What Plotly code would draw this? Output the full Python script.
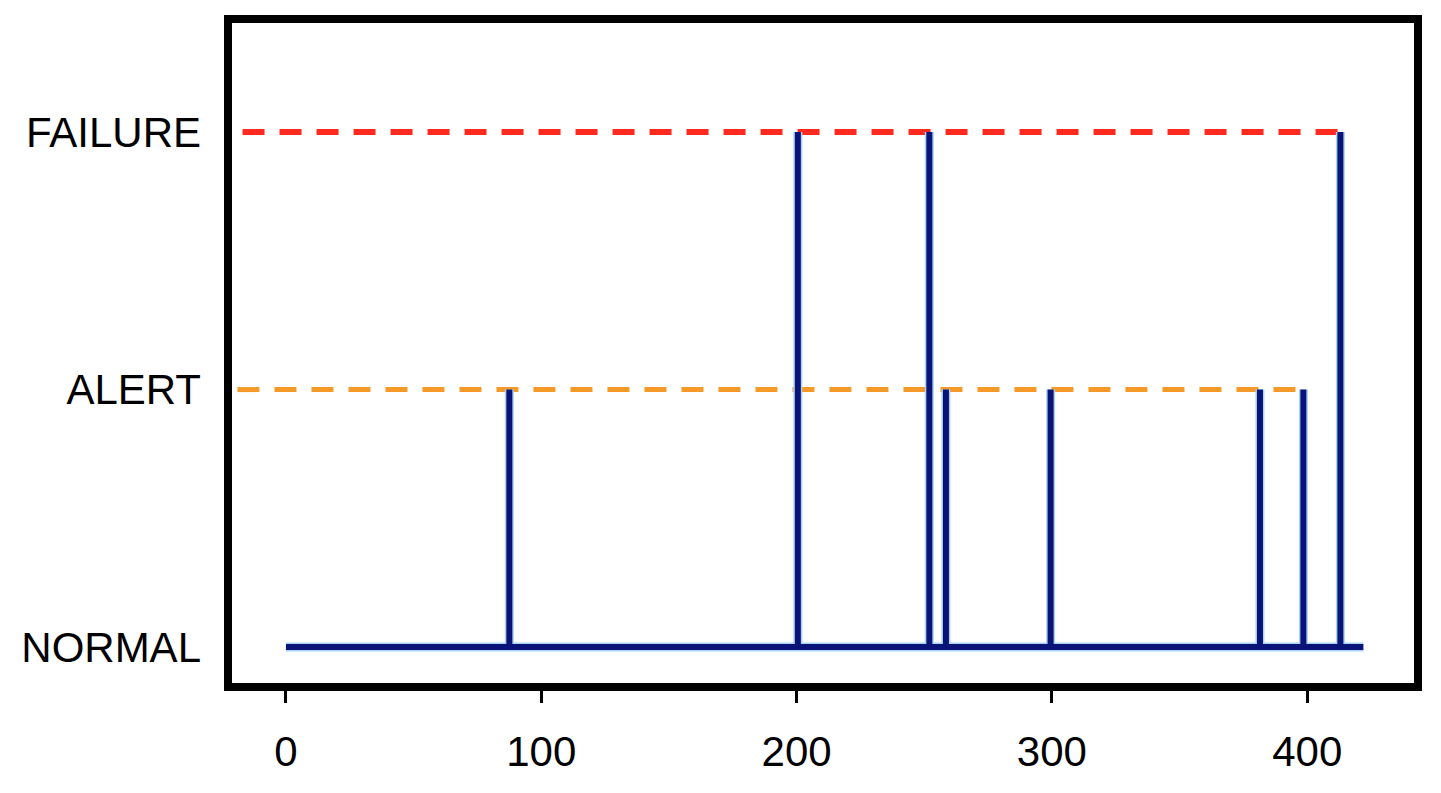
import plotly.graph_objects as go

# ---- data ----
state_labels = ["NORMAL", "ALERT", "FAILURE"]
state_values = [0, 1, 2]
x_ticks = [0, 100, 200, 300, 400]

baseline_start = 0
baseline_end = 422

event_x = [87.5, 200.5, 252, 258.5, 299.5, 381.5, 398.5, 413]
event_level = [1, 2, 2, 1, 1, 1, 1, 2]

alert_line_x = [-19, 398.5]
failure_line_x = [-17, 415]

# ---- build signal path ----
sig_x = [baseline_start, baseline_end, None]
sig_y = [0, 0, None]
for ex, lv in zip(event_x, event_level):
    sig_x += [ex, ex, None]
    sig_y += [0, lv, None]

fig = go.Figure()

# threshold lines
fig.add_trace(go.Scatter(x=failure_line_x, y=[2, 2], mode="lines",
                         line=dict(color="#ff2a1f", width=6, dash="22px,15px"),
                         hoverinfo="skip", showlegend=False))
fig.add_trace(go.Scatter(x=alert_line_x, y=[1, 1], mode="lines",
                         line=dict(color="#f59a28", width=5, dash="22px,15px"),
                         hoverinfo="skip", showlegend=False))

# signal halo + core
fig.add_trace(go.Scatter(x=sig_x, y=sig_y, mode="lines",
                         line=dict(color="#a9d3f2", width=9),
                         hoverinfo="skip", showlegend=False))
fig.add_trace(go.Scatter(x=sig_x, y=sig_y, mode="lines",
                         line=dict(color="#0a1478", width=6),
                         showlegend=False))

# frame
fig.add_shape(type="rect", xref="paper", yref="paper", x0=0, x1=1, y0=0, y1=1,
              line=dict(color="black", width=8), layer="above")

fig.update_layout(
    width=1433, height=785,
    margin=dict(l=220, r=23, t=11, b=106),
    paper_bgcolor="white", plot_bgcolor="white",
    font=dict(family="Liberation Sans, Arial, sans-serif", size=42, color="black"),
    xaxis=dict(range=[-22.7, 443.4], tickvals=x_ticks, ticktext=[str(v) for v in x_ticks],
               showgrid=False, zeroline=False, showline=False,
               ticks="outside", ticklen=15, tickwidth=3, tickcolor="black",
               ticklabelstandoff=13),
    yaxis=dict(range=[-0.155, 2.439], tickvals=state_values, ticktext=state_labels,
               showgrid=False, zeroline=False, showline=False, ticks="",
               ticklabelstandoff=26),
)

fig.write_html("out.html")
